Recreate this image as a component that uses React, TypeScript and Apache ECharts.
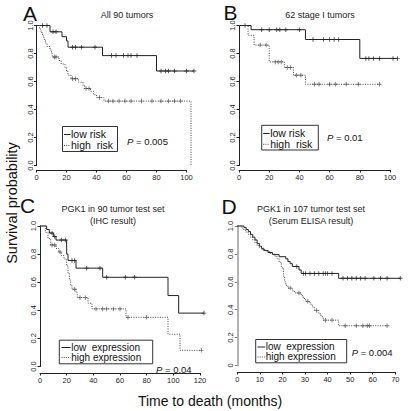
import React, { useEffect, useRef } from 'react';
import * as echarts from 'echarts';

// ---------- DATA ----------
// Panel A: All 90 tumors
const aLowEventT = [9, 17, 20, 21, 44, 80];
const aLowSurv = [0.955, 0.92, 0.89, 0.845, 0.785, 0.675];
const aLowCensorT = [4, 7, 11, 13, 24, 26, 30, 39, 50, 53, 58, 61, 63, 67, 83, 86, 88, 92, 100, 105];
const aHighEventT = [2, 3, 4, 5, 6, 7, 9, 10, 10.5, 15, 16.5, 19, 20, 21, 23, 28, 31, 32, 36, 38, 40, 45, 103];
const aHighSurv = [0.975, 0.95, 0.925, 0.9, 0.875, 0.85, 0.825, 0.8, 0.775, 0.75, 0.725, 0.7, 0.672, 0.645, 0.62, 0.595, 0.57, 0.55, 0.53, 0.505, 0.485, 0.46, 0];
const aHighCensorT = [12, 13, 24, 26, 33, 35, 42, 48, 51, 55, 59, 63, 70, 77, 83, 88, 92, 96];

// Panel B: 62 stage I tumors
const bLowEventT = [8, 44, 80];
const bLowSurv = [0.97, 0.9, 0.765];
const bLowCensorT = [4, 15, 20, 25, 27, 31, 40, 49, 56, 60, 63, 66, 84, 86, 89, 93, 102, 105];
const bHighEventT = [6, 10, 20, 30, 36, 44];
const bHighSurv = [0.93, 0.86, 0.74, 0.7, 0.645, 0.58];
const bHighCensorT = [14, 18, 24, 26, 28, 32, 34, 38, 41, 50, 53, 60, 64, 71, 79, 93];

// Panel C: PGK1 in 90 tumor test set (IHC)
const cLowEventT = [5, 7, 10, 12, 20, 21, 27, 47, 96, 104];
const cLowSurv = [0.975, 0.95, 0.925, 0.9, 0.8, 0.755, 0.7, 0.635, 0.505, 0.38];
const cLowCensorT = [9, 11, 16, 19, 24, 26, 35, 45, 50, 64, 71, 123];
const cHighEventT = [4, 6, 8, 12, 14, 16, 18, 20, 21, 22, 23, 24, 27, 28, 36, 39, 64.5, 96, 105];
const cHighSurv = [0.955, 0.91, 0.865, 0.84, 0.815, 0.79, 0.765, 0.715, 0.665, 0.615, 0.575, 0.55, 0.525, 0.49, 0.45, 0.41, 0.35, 0.23, 0.115];
const cHighCensorT = [9, 11, 15, 26, 30, 34, 42, 47, 50, 55, 60, 66, 80, 121];

// Panel D: PGK1 in 107 tumor test set (Serum ELISA)
const dLowEventT = [3, 4, 5, 6, 7, 8, 9, 10, 11, 12, 14, 16, 19, 22, 23, 24, 25, 28, 29, 46];
const dLowSurv = [0.99, 0.975, 0.96, 0.94, 0.92, 0.9, 0.875, 0.855, 0.84, 0.825, 0.81, 0.795, 0.78, 0.765, 0.745, 0.73, 0.71, 0.685, 0.66, 0.625];
const dLowCensorT = [27, 30, 31, 33, 35, 37, 39, 40, 41, 43, 48, 50, 52, 54, 56, 58, 62, 65, 68, 74];
const dHighEventT = [2, 3, 4, 5, 6, 7, 8, 9, 10, 11, 13, 15, 17, 18, 19, 20, 21, 21.5, 22, 23, 25, 26, 29, 30, 31, 33, 34, 35, 37, 38, 39, 46];
const dHighSurv = [0.985, 0.97, 0.955, 0.94, 0.92, 0.9, 0.88, 0.86, 0.845, 0.83, 0.815, 0.8, 0.785, 0.765, 0.74, 0.7, 0.64, 0.6, 0.575, 0.555, 0.535, 0.52, 0.5, 0.48, 0.46, 0.44, 0.42, 0.395, 0.37, 0.35, 0.325, 0.285];
const dHighCensorT = [24, 28, 32, 36, 40, 43, 49, 54, 57, 59, 60, 68];

const panelLetters = ['A', 'B', 'C', 'D'];
const panelTitles = [['All 90 tumors'], ['62 stage I tumors'], ['PGK1 in 90 tumor test set', '(IHC result)'], ['PGK1 in 107 tumor test set', '(Serum ELISA result)']];
const legendLabels = [['low risk', 'high  risk'], ['low risk', 'high  risk'], ['low  expression', 'high expression'], ['low  expression', 'high expression']];
const pValues = ['0.005', '0.01', '0.04', '0.004'];
const xMaxTicks = [100, 100, 120, 70];
const xIntervals = [20, 20, 20, 10];

const curves = [
  [[aLowEventT, aLowSurv, aLowCensorT], [aHighEventT, aHighSurv, aHighCensorT]],
  [[bLowEventT, bLowSurv, bLowCensorT], [bHighEventT, bHighSurv, bHighCensorT]],
  [[cLowEventT, cLowSurv, cLowCensorT], [cHighEventT, cHighSurv, cHighCensorT]],
  [[dLowEventT, dLowSurv, dLowCensorT], [dHighEventT, dHighSurv, dHighCensorT]],
];

// ---------- LAYOUT ----------
const FONT = '"Liberation Sans", Arial, Helvetica, sans-serif';
const INK = '#222';
const EXT = 1.12; // data grids extend past the last tick (same scale)
const grids = [
  { left: 36.5, top: 25.5, width: 150, height: 140, xOffset: 4.5 },
  { left: 239, top: 25.5, width: 151, height: 140, xOffset: 4.5 },
  { left: 40, top: 226, width: 160, height: 140.5, xOffset: 6.5 },
  { left: 237.3, top: 226, width: 158, height: 139.5, xOffset: 6.5 },
];
const letterPos = [[30, 13], [230.5, 12.5], [27.5, 205.5], [229, 206]];
const titlePos = [[127, 15, 0], [320, 15, 0], [113, 208.5, 12.5], [311, 209, 11.5]];
const legendBox = [
  { x: 62.5, y: 126.5, w: 55, h: 25, l1: 134, l2: 145, lx: 64, tx: 71, fs: 10.5 },
  { x: 261.7, y: 125.3, w: 56.6, h: 24.7, l1: 133, l2: 143.8, lx: 263.2, tx: 270.2, fs: 10.5 },
  { x: 59.3, y: 340.2, w: 93.4, h: 23.6, l1: 347, l2: 357, lx: 61.5, tx: 71.2, fs: 10 },
  { x: 255.7, y: 339.5, w: 91, h: 23.3, l1: 346.5, l2: 356.5, lx: 257.5, tx: 265.7, fs: 10 },
];
const pPos = [[127, 141], [327, 137.5], [156, 369], [351.7, 352.3]];

const lowStyle = { color: '#222', width: 1, type: 'solid' as const };
const highStyle = { color: '#444', width: 1, type: [1, 1.4] as any };
const PLUS = 'path://M2 0H3V5H2Z M0 2H5V3H0Z';

function kmPoints(eventT: number[], surv: number[], censorT: number[]) {
  const pts: number[][] = [[0, 1]];
  eventT.forEach((t, i) => pts.push([t, surv[i]]));
  const end = Math.max(eventT[eventT.length - 1], ...censorT);
  const last = pts[pts.length - 1];
  if (end > last[0]) pts.push([end, last[1]]);
  return pts;
}
function survAt(eventT: number[], surv: number[], t: number) {
  let s = 1;
  for (let i = 0; i < eventT.length; i++) if (eventT[i] <= t) s = surv[i];
  return s;
}

export default function App() {
  const ref = useRef<HTMLDivElement>(null);
  useEffect(() => {
    if (!ref.current) return;
    const chart = echarts.init(ref.current, undefined, { renderer: 'svg' });

    // visible axis grids (0..last tick) + data grids (same scale, wider)
    const gridOpt: any[] = grids.map((g) => ({ left: g.left, top: g.top, width: g.width, height: g.height }));
    grids.forEach((g) => gridOpt.push({ left: g.left, top: g.top, width: g.width * EXT, height: g.height }));

    const xAxes: any[] = grids.map((g, i) => ({
      type: 'value', gridIndex: i, min: 0, max: xMaxTicks[i], interval: xIntervals[i], offset: g.xOffset,
      axisLine: { show: true, onZero: false, lineStyle: { color: INK, width: 1 } },
      axisTick: { show: true, length: 2.5, lineStyle: { color: INK, width: 1 } },
      axisLabel: { fontSize: 7.5, color: INK, margin: 3.5, fontFamily: FONT },
      splitLine: { show: false },
    }));
    const yAxes: any[] = grids.map((g, i) => ({
      type: 'value', gridIndex: i, min: 0, max: 1, interval: 0.2,
      axisLine: { show: true, onZero: false, lineStyle: i === 3 ? { color: '#b4b4b4', width: 2 } : { color: INK, width: 1 } },
      axisTick: { show: true, length: 2.5, lineStyle: { color: i === 3 ? '#777' : INK, width: 1 } },
      axisLabel: {
        fontSize: 7.5, color: INK, margin: 2.5, rotate: 90, fontFamily: FONT,
        formatter: (v: number) => (i === 3 && v === 0 ? '0' : v.toFixed(1)),
      },
      splitLine: { show: false },
    }));
    grids.forEach((g, i) => {
      xAxes.push({ type: 'value', gridIndex: 4 + i, min: 0, max: xMaxTicks[i] * EXT, show: false });
      yAxes.push({ type: 'value', gridIndex: 4 + i, min: 0, max: 1, show: false });
    });

    const series: any[] = [];
    curves.forEach((pair, i) => {
      pair.forEach(([eT, sv, cT], k) => {
        const ls = k === 0 ? lowStyle : highStyle;
        series.push({
          type: 'line', name: legendLabels[i][k], xAxisIndex: 4 + i, yAxisIndex: 4 + i,
          data: kmPoints(eT, sv, cT), step: 'end', symbol: 'none', showSymbol: false,
          clip: false, lineStyle: ls, silent: true,
        });
        series.push({
          type: 'scatter', xAxisIndex: 4 + i, yAxisIndex: 4 + i, clip: false, silent: true,
          symbol: PLUS, symbolSize: 4.5,
          itemStyle: { color: k === 0 ? '#222' : '#555' },
          data: cT.map((t) => [t, survAt(eT, sv, t)]),
        });
      });
    });

    const graphic: any[] = [];
    panelLetters.forEach((L, i) => {
      graphic.push({ type: 'text', x: letterPos[i][0], y: letterPos[i][1], style: { text: L, fontSize: 21, fontFamily: FONT, fill: '#111', align: 'center', verticalAlign: 'middle' } });
      panelTitles[i].forEach((t, j) => {
        graphic.push({ type: 'text', x: titlePos[i][0], y: titlePos[i][1] + j * titlePos[i][2], style: { text: t, fontSize: 9, fontFamily: FONT, fill: INK, align: 'center', verticalAlign: 'middle' } });
      });
      const lb = legendBox[i];
      graphic.push({ type: 'rect', shape: { x: lb.x, y: lb.y, width: lb.w, height: lb.h }, style: { fill: '#fff', stroke: '#333', lineWidth: 1 }, z: 10 });
      [lb.l1, lb.l2].forEach((yy, k) => {
        const ls = k === 0 ? lowStyle : highStyle;
        graphic.push({ type: 'line', shape: { x1: lb.lx, y1: yy + 0.5, x2: lb.tx - 0.5, y2: yy + 0.5 }, style: { stroke: ls.color, lineWidth: 1, lineDash: k === 0 ? null : [1, 1.2] }, z: 11 });
        graphic.push({ type: 'text', x: lb.tx, y: yy, style: { text: legendLabels[i][k], fontSize: lb.fs, fontFamily: FONT, fill: '#111', align: 'left', verticalAlign: 'middle' }, z: 11 });
      });
      graphic.push({
        type: 'text', x: pPos[i][0], y: pPos[i][1],
        style: {
          text: '{i|P} = ' + pValues[i], fontSize: 9.5, fontFamily: FONT, fill: '#111', align: 'left', verticalAlign: 'middle',
          rich: { i: { fontStyle: 'italic', fontSize: 9.5, fontFamily: FONT, fill: '#111' } },
        },
      });
    });
    graphic.push({ type: 'text', x: 12, y: 203, rotation: Math.PI / 2, style: { text: 'Survival probability', fontSize: 14.5, fontFamily: FONT, fill: '#111', align: 'center', verticalAlign: 'middle' } });
    graphic.push({ type: 'text', x: 210, y: 401, style: { text: 'Time to death (months)', fontSize: 14, fontFamily: FONT, fill: '#111', align: 'center', verticalAlign: 'middle' } });

    chart.setOption({
      animation: false,
      backgroundColor: '#fff',
      grid: gridOpt,
      xAxis: xAxes,
      yAxis: yAxes,
      series,
      graphic,
    });
    return () => chart.dispose();
  }, []);
  return <div ref={ref} style={{ position: 'fixed', left: 0, top: 0, width: 410, height: 411, background: '#fff' }} />;
}
